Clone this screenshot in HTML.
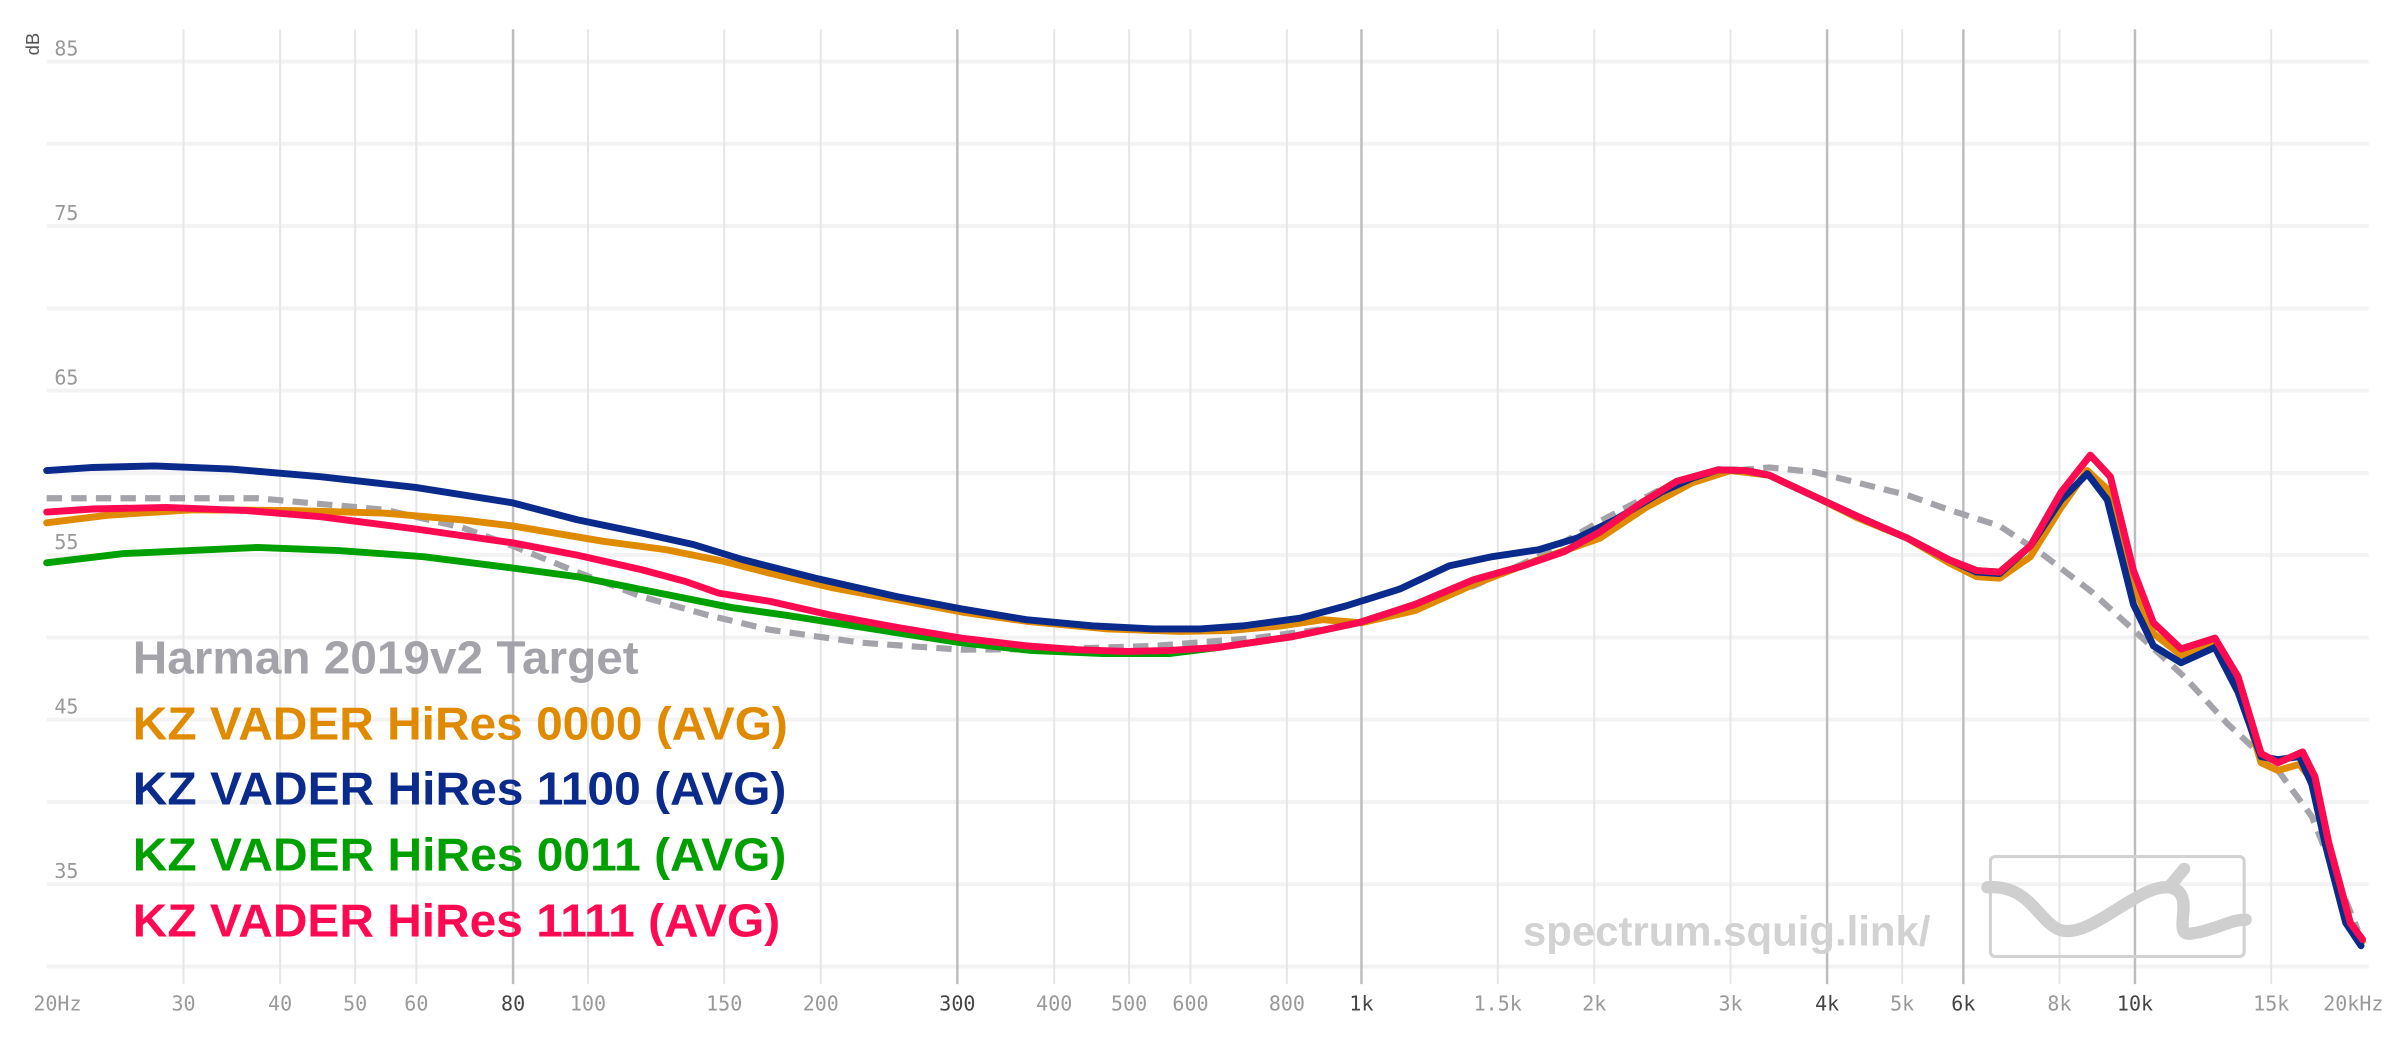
<!DOCTYPE html>
<html><head><meta charset="utf-8"><style>
html,body{margin:0;padding:0;background:#fff;}
svg{display:block;}
</style></head><body>
<svg width="2400" height="1038" viewBox="0 0 1560 675" xmlns="http://www.w3.org/2000/svg">
<rect width="1560" height="675" fill="#fff"/>
<g stroke="#f3f3f3" stroke-width="2.6">
<line x1="30" y1="40" x2="1540" y2="40"/><line x1="30" y1="93.5" x2="1540" y2="93.5"/>
<line x1="30" y1="147" x2="1540" y2="147"/><line x1="30" y1="200.5" x2="1540" y2="200.5"/>
<line x1="30" y1="254" x2="1540" y2="254"/><line x1="30" y1="307.5" x2="1540" y2="307.5"/>
<line x1="30" y1="361" x2="1540" y2="361"/><line x1="30" y1="414.5" x2="1540" y2="414.5"/>
<line x1="30" y1="468" x2="1540" y2="468"/><line x1="30" y1="521.5" x2="1540" y2="521.5"/>
<line x1="30" y1="575" x2="1540" y2="575"/><line x1="30" y1="628.5" x2="1540" y2="628.5"/>
</g>
<g stroke="#e6e6e6" stroke-width="1.3">
<line x1="119.0" y1="19" x2="119.0" y2="640"/><line x1="181.8" y1="19" x2="181.8" y2="640"/>
<line x1="230.6" y1="19" x2="230.6" y2="640"/><line x1="270.4" y1="19" x2="270.4" y2="640"/>
<line x1="382" y1="19" x2="382" y2="640"/><line x1="470.6" y1="19" x2="470.6" y2="640"/>
<line x1="533.4" y1="19" x2="533.4" y2="640"/><line x1="685.2" y1="19" x2="685.2" y2="640"/>
<line x1="733.9" y1="19" x2="733.9" y2="640"/><line x1="773.8" y1="19" x2="773.8" y2="640"/>
<line x1="836.5" y1="19" x2="836.5" y2="640"/><line x1="973.6" y1="19" x2="973.6" y2="640"/>
<line x1="1036.4" y1="19" x2="1036.4" y2="640"/><line x1="1125" y1="19" x2="1125" y2="640"/>
<line x1="1236.6" y1="19" x2="1236.6" y2="640"/><line x1="1338.9" y1="19" x2="1338.9" y2="640"/>
<line x1="1476.6" y1="19" x2="1476.6" y2="640"/>
</g>
<g stroke="#bdbdbd" stroke-width="1.6">
<line x1="333.3" y1="19" x2="333.3" y2="640"/><line x1="622.2" y1="19" x2="622.2" y2="640"/>
<line x1="885" y1="19" x2="885" y2="640"/><line x1="1187.8" y1="19" x2="1187.8" y2="640"/>
<line x1="1276.4" y1="19" x2="1276.4" y2="640"/><line x1="1388" y1="19" x2="1388" y2="640"/>
</g>
<g font-family="'DejaVu Sans Mono','Liberation Mono',monospace" font-size="13" fill="#999">
<text x="35" y="36">85</text><text x="35" y="143">75</text><text x="35" y="250">65</text>
<text x="35" y="357">55</text><text x="35" y="464">45</text><text x="35" y="571">35</text>
</g>
<text transform="translate(25,36) rotate(-90)" font-family="'Liberation Sans',sans-serif" font-size="12" fill="#555">dB</text>
<g font-family="'DejaVu Sans Mono','Liberation Mono',monospace" font-size="13" fill="#999" text-anchor="middle">
<text x="37" y="657">20Hz</text><text x="119" y="657">30</text><text x="181.8" y="657">40</text>
<text x="230.6" y="657">50</text><text x="270.4" y="657">60</text><text x="333.3" y="657" fill="#444">80</text>
<text x="382" y="657">100</text><text x="470.6" y="657">150</text><text x="533.4" y="657">200</text>
<text x="622.2" y="657" fill="#444">300</text><text x="685.2" y="657">400</text><text x="733.9" y="657">500</text>
<text x="773.8" y="657">600</text><text x="836.5" y="657">800</text><text x="885" y="657" fill="#444">1k</text>
<text x="973.6" y="657">1.5k</text><text x="1036.4" y="657">2k</text><text x="1125" y="657">3k</text>
<text x="1187.8" y="657" fill="#444">4k</text><text x="1236.6" y="657">5k</text><text x="1276.4" y="657" fill="#444">6k</text>
<text x="1338.9" y="657">8k</text><text x="1388" y="657" fill="#444">10k</text><text x="1476.6" y="657">15k</text>
<text x="1530" y="657">20kHz</text>
</g>
<text x="990" y="615" font-family="'Liberation Sans',sans-serif" font-weight="bold" font-size="27" fill="#d2d2d2" textLength="265" lengthAdjust="spacingAndGlyphs">spectrum.squig.link/</text>
<rect x="1294" y="557" width="165" height="65" rx="3" fill="none" stroke="#d2d2d2" stroke-width="2"/>
<path d="M1292,577 C1320,575 1325,600 1340,605 C1360,610 1390,575 1410,577 C1430,580 1410,610 1425,607 C1440,605 1450,598 1460,598 M1410,577 L1420,565" fill="none" stroke="#cfcfcf" stroke-width="8" stroke-linecap="round"/>
<g fill="none" stroke-linejoin="round" stroke-linecap="round">
<polyline stroke="#a4a3aa" stroke-width="4" stroke-dasharray="10 6" stroke-linecap="butt" points="30,324 100,324 167,324 250,331.5 300,343 333,355 375,372 417,388 460,400 500,409.5 560,418 625,422.5 690,422 750,420 815,415 875,407 920,395 958,381 1000,362 1042,338 1080,318 1108,307.7 1150,304 1180,307 1208,314 1240,322 1267,331.5 1300,342 1328.7,361 1360,385 1387.5,410 1420,440 1448.5,471 1481,501 1503,531 1518,568 1533,605"/>
<polyline stroke="#e08a00" stroke-width="4.5" points="30,340 70,335 125,331.5 190,332 250,333.7 300,338 333,342 392,352 433,357.5 470,365 500,372.7 540,382 583,390 625,398 667,404 720,409 767,410.6 800,410 833,407 860,403 885,405 920,397 958,380 1000,364 1040,350 1070,330 1100,314 1125,306 1150,309 1180,323 1208,337 1240,350 1267,366 1285,375 1300,376 1320,362 1340,330 1357,306 1372,320 1387,380 1400,412 1418,426 1440,418 1455,445 1470,496 1481,501 1495,497 1505,510 1514,550 1528,600 1536,612"/>
<polyline stroke="#0a2b8c" stroke-width="4.5" points="30,306 60,304 100,303 150,305 208,310 270,317 333,327 375,338 417,346.7 450,354 483,364 530,376 583,388 625,396 667,403 710,407 750,409 780,409 808,407 845,402 875,394 910,383 942,368 970,362 1000,357.5 1025,350 1050,338 1080,320 1100,311 1117,305.5 1135,306 1150,309 1180,323 1208,336 1240,350 1267,364 1285,372 1300,373 1320,355 1340,325 1357,308 1370,325 1387,393 1400,420 1418,431 1440,421 1455,450 1470,492 1481,494 1495,492 1503,510 1512,550 1525,600 1535,615"/>
<polyline stroke="#00a000" stroke-width="4.5" points="30,366 80,360 167,356 220,358 275,362 330,369 375,375 420,384 475,395 510,400 542,405 580,411 625,418 670,423 717,425 760,425 792,421 840,414 883,405 920,393 958,377 990,368 1017,358.6 1040,346 1067,327 1090,313 1117,305.5 1135,306 1150,309 1180,323 1208,336 1240,350 1267,364 1285,371 1300,372 1320,355 1340,320 1359,296 1372,310 1387,371 1400,405 1418,422 1440,415 1455,440 1470,490 1481,496 1497,489 1505,505 1514,548 1528,600 1536,611"/>
<polyline stroke="#ff0a52" stroke-width="4.5" points="30,333 60,331 108,330 160,332 208,336 270,344 333,353 375,361 417,370.5 445,378 467,385.7 500,391 540,400 583,408 625,415 667,420 700,422.5 733,423.6 760,423 792,421 840,414 883,405 920,393 958,377 990,368 1017,358.6 1040,346 1067,327 1090,313 1117,305.5 1135,306 1150,309 1180,323 1208,336 1240,350 1267,364 1285,371 1300,372 1320,355 1340,320 1359,296 1372,310 1387,371 1400,405 1418,422 1440,415 1455,440 1470,490 1481,496 1497,489 1505,505 1514,548 1528,600 1536,611"/>
</g>
<g font-family="'Liberation Sans',sans-serif" font-weight="bold" font-size="30">
<text x="86" y="438" fill="#a4a3aa" textLength="329" lengthAdjust="spacingAndGlyphs">Harman 2019v2 Target</text>
<text x="86" y="481" fill="#e08a00" textLength="426" lengthAdjust="spacingAndGlyphs">KZ VADER HiRes 0000 (AVG)</text>
<text x="86" y="523" fill="#0a2b8c" textLength="425" lengthAdjust="spacingAndGlyphs">KZ VADER HiRes 1100 (AVG)</text>
<text x="86" y="566" fill="#00a000" textLength="425" lengthAdjust="spacingAndGlyphs">KZ VADER HiRes 0011 (AVG)</text>
<text x="86" y="609" fill="#ff0a52" textLength="421" lengthAdjust="spacingAndGlyphs">KZ VADER HiRes 1111 (AVG)</text>
</g>
</svg>
</body></html>
